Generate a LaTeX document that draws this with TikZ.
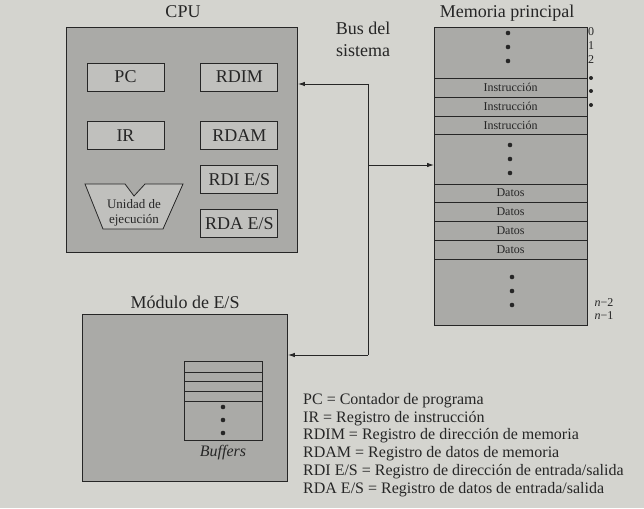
\documentclass[tikz,border=0pt]{standalone}
\usepackage{fontspec}
\setmainfont{Liberation Serif}
\usepackage{tikz}
\usetikzlibrary{arrows.meta,positioning}
\definecolor{paper}{RGB}{212,212,207}
\definecolor{boxgray}{RGB}{170,170,167}
\definecolor{reggray}{RGB}{192,192,189}
\definecolor{ink}{RGB}{38,38,38}
\tikzset{
  unit/.style={
    draw=ink,
    fill=boxgray,
    line width=0.9pt,
    inner sep=0pt
  },
  reg/.style={
    draw=ink,
    fill=reggray,
    line width=0.8pt,
    minimum width=77pt,
    minimum height=28pt,
    inner sep=0pt,
    font=\fontsize{18}{20}\selectfont,
    text=ink
  },
  memcell/.style={
    draw=ink,
    fill=boxgray,
    line width=0.8pt,
    minimum width=153pt,
    inner sep=0pt,
    outer sep=0pt,
    font=\fontsize{12}{14}\selectfont,
    text=ink
  },
  bufcell/.style={
    draw=ink,
    fill=boxgray,
    line width=0.8pt,
    minimum width=78pt,
    inner sep=0pt,
    outer sep=0pt
  },
  title/.style={font=\fontsize{18}{22}\selectfont, text=ink, inner sep=0pt},
  tag/.style={font=\fontsize{12}{13}\selectfont, text=ink, inner sep=0pt},
  line/.style={-{Latex[length=7pt,width=4.5pt]}, line width=0.9pt, draw=ink},
  wire/.style={line width=0.9pt, draw=ink}
}

\begin{document}
\begin{tikzpicture}[x=1pt,y=-1pt]
\useasboundingbox (0,0) rectangle (644,508);
\fill[paper] (0,0) rectangle (644,508);

% CPU
\node[unit, anchor=north west, minimum width=231pt, minimum height=225pt] (cpu) at (66,27) {};
\node[title, anchor=base] (cputitle) at (183,18) {CPU};
\node[reg] (pc) at (125.5,77) {PC};
\node[reg, right=36pt of pc] (rdim) {RDIM};
\node[reg, below=30pt of pc] (ir) {IR};
\node[reg, below=30pt of rdim] (rdam) {RDAM};
\node[reg, below=15pt of rdam] (rdies) {RDI E/S};
\node[reg, below=15pt of rdies] (rdaes) {RDA E/S};
\draw[draw=ink, fill=reggray, line width=0.8pt]
  (85,184) -- (125,184) -- (134,196) -- (145,184) -- (183,184)
  -- (163,229) -- (103,229) -- cycle;
\node[tag, align=center, font=\fontsize{13}{15}\selectfont] (exec) at (134,213) {Unidad de\\ejecución};

% memoria principal
\node[title, anchor=base] (memtitle) at (507,18) {Memoria principal};
\node[memcell, anchor=north, minimum height=51pt] (memtop) at (510.5,27) {};
\node[memcell, below=0pt of memtop, minimum height=19pt] (ins1) {Instrucción};
\node[memcell, below=0pt of ins1, minimum height=19pt] (ins2) {Instrucción};
\node[memcell, below=0pt of ins2, minimum height=18pt] (ins3) {Instrucción};
\node[memcell, below=0pt of ins3, minimum height=50pt] (memmid) {};
\node[memcell, below=0pt of memmid, minimum height=18pt] (dat1) {Datos};
\node[memcell, below=0pt of dat1, minimum height=19pt] (dat2) {Datos};
\node[memcell, below=0pt of dat2, minimum height=19pt] (dat3) {Datos};
\node[memcell, below=0pt of dat3, minimum height=19pt] (dat4) {Datos};
\node[memcell, below=0pt of dat4, minimum height=66pt] (membot) {};
\foreach \y in {33,47,61} \fill[ink] (508,\y) circle (2.3pt);
\foreach \y in {145,159,173} \fill[ink] (510,\y) circle (2.3pt);
\foreach \y in {277,291,305} \fill[ink] (512,\y) circle (2.3pt);
\node[tag] (addr0) at (591,32) {0};
\node[tag] (addr1) at (591,46) {1};
\node[tag] (addr2) at (591,60) {2};
\foreach \y in {78,91,105} \fill[ink] (591,\y) circle (2pt);
\node[tag] (addrn2) at (604,303) {\textit{n}−2};
\node[tag] (addrn1) at (604,316) {\textit{n}−1};

% modulo de E/S
\node[title, anchor=base] (iotitle) at (185,308) {Módulo de E/S};
\node[unit, anchor=north west, minimum width=205pt, minimum height=167pt] (io) at (82,314) {};
\node[bufcell, anchor=north, minimum height=11pt] (buf1) at (223,361) {};
\node[bufcell, below=0pt of buf1, minimum height=9pt] (buf2) {};
\node[bufcell, below=0pt of buf2, minimum height=10pt] (buf3) {};
\node[bufcell, below=0pt of buf3, minimum height=10pt] (buf4) {};
\node[bufcell, below=0pt of buf4, minimum height=39pt] (bufdots) {};
\foreach \y in {407,420,433} \fill[ink] (223,\y) circle (2.3pt);
\node[title, anchor=base, font=\fontsize{16}{18}\selectfont\itshape] (buftitle) at (223,456) {Buffers};

% bus del sistema
\node[title, align=center, anchor=base] (bustitle) at (363,57) {Bus del\\sistema};
\coordinate (bustop) at (368,84);
\coordinate (busmid) at (368,165);
\coordinate (busbot) at (368,355);
\draw[wire] (bustop) -- (busbot);
\draw[line] (bustop) -- (bustop -| cpu.east);
\draw[line] (busmid) -- (busmid -| memmid.west);
\draw[line] (busbot) -- (busbot -| io.east);

% leyenda
\node[anchor=north west, align=left, inner sep=0pt, text=ink,
  font=\fontsize{16}{17.8}\selectfont] (legend) at (303,393) {%
  PC = Contador de programa\\
  IR = Registro de instrucción\\
  RDIM = Registro de dirección de memoria\\
  RDAM = Registro de datos de memoria\\
  RDI E/S = Registro de dirección de entrada/salida\\
  RDA E/S = Registro de datos de entrada/salida};
\end{tikzpicture}
\end{document}
